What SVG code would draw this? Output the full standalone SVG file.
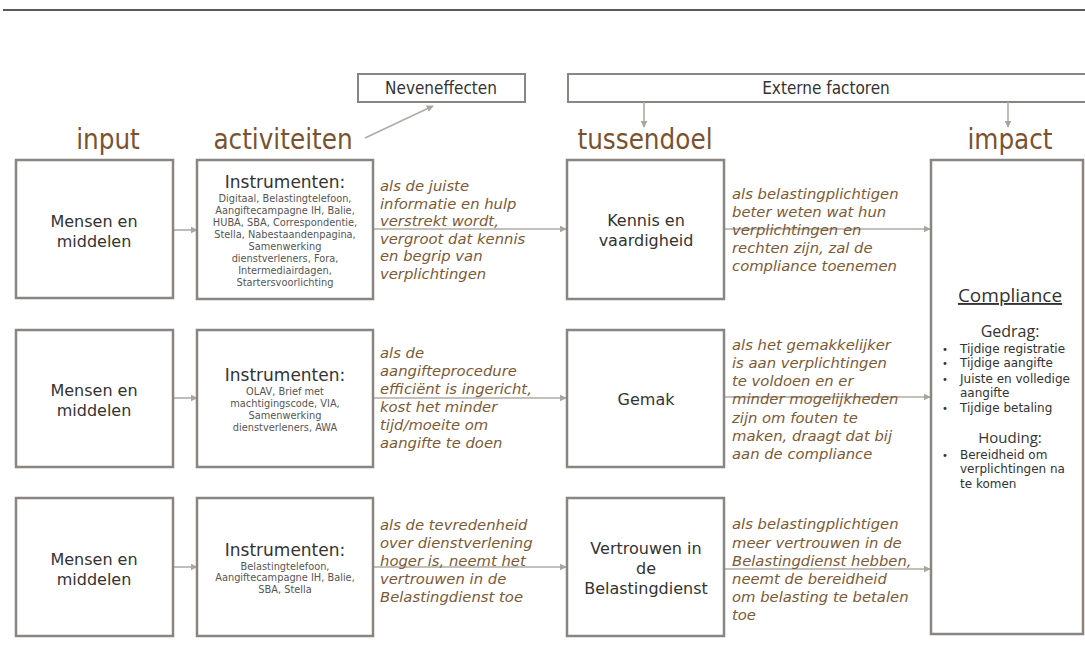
<svg xmlns="http://www.w3.org/2000/svg" width="1085" height="664" viewBox="0 0 1085 664">
<defs>
<marker id="ah" viewBox="0 0 10 10" refX="9" refY="5" markerWidth="7" markerHeight="7" orient="auto" markerUnits="userSpaceOnUse">
<path d="M0,0 L10,5 L0,10 z" fill="#aaa59f"/>
</marker>
<style>
.box{fill:#fff;stroke:#8a8580;stroke-width:2.5}
.tbox{fill:#fff;stroke:#8a8580;stroke-width:2}
.con{stroke:#b0aba5;stroke-width:1.6;fill:none;marker-end:url(#ah)}
.hdr{font-family:"DejaVu Sans Condensed","DejaVu Sans",sans-serif;font-stretch:condensed;font-size:27.5px;fill:#7a5230;text-anchor:middle}
.top{font-family:"DejaVu Sans Condensed","DejaVu Sans",sans-serif;font-stretch:condensed;font-size:17px;fill:#333;text-anchor:middle}
.nt{font-family:"DejaVu Sans",Verdana,sans-serif;font-size:16px;fill:#333;text-anchor:middle}
.ins{font-family:"DejaVu Sans",Verdana,sans-serif;font-size:17px;fill:#333;text-anchor:middle}
.sm{font-family:"DejaVu Sans",Verdana,sans-serif;font-size:9.8px;fill:#555;text-anchor:middle}
.it{font-family:"DejaVu Sans",Verdana,sans-serif;font-style:italic;font-size:14.8px;fill:#7b5a36}
.imp{font-family:"DejaVu Sans",sans-serif;font-size:12px;fill:#333}
.bul{font-family:"DejaVu Sans",sans-serif;font-size:10px;fill:#333}
.impc{font-family:"Open Sans","DejaVu Sans",sans-serif;font-size:15px;fill:#333;text-anchor:middle}
.comp{font-family:"Open Sans","DejaVu Sans",sans-serif;font-size:19px;fill:#333;text-anchor:middle;text-decoration:underline}
.ged{font-family:"Open Sans","DejaVu Sans",sans-serif;font-size:16px;fill:#333;text-anchor:middle}
</style>
</defs>
<line x1="3" y1="10" x2="1085" y2="10" stroke="#222" stroke-width="1.3"/>

<g id="neveneffecten"><rect class="tbox" x="358" y="74" width="167" height="28"/><text class="top" x="441" y="94">Neveneffecten</text></g>
<g id="externe"><rect class="tbox" x="568" y="74" width="530" height="28"/><text class="top" x="826" y="94">Externe factoren</text></g>

<g id="headers">
<text class="hdr" x="108" y="149">input</text>
<text class="hdr" x="283" y="149">activiteiten</text>
<text class="hdr" x="645" y="149">tussendoel</text>
<text class="hdr" x="1010" y="149">impact</text>
</g>

<g id="connectors">
<line class="con" x1="365" y1="138" x2="433" y2="106"/>
<line class="con" x1="644" y1="102" x2="644" y2="127"/>
<line class="con" x1="1008" y1="102" x2="1008" y2="127"/>
<line class="con" x1="173" y1="230" x2="197" y2="230"/>
<line class="con" x1="173" y1="398" x2="197" y2="398"/>
<line class="con" x1="173" y1="567" x2="197" y2="567"/>
<line class="con" x1="373" y1="229" x2="566" y2="229"/>
<line class="con" x1="373" y1="398" x2="566" y2="398"/>
<line class="con" x1="373" y1="567" x2="566" y2="567"/>
<line class="con" x1="724" y1="229" x2="930" y2="229"/>
<line class="con" x1="724" y1="397" x2="930" y2="397"/>
<line class="con" x1="724" y1="569" x2="930" y2="569"/>
</g>

<g id="input1"><rect class="box" x="16" y="160" width="157" height="138"/><text class="nt" x="94" y="227">Mensen en</text><text class="nt" x="94" y="247">middelen</text></g>
<g id="input2"><rect class="box" x="16" y="330" width="157" height="137"/><text class="nt" x="94" y="396">Mensen en</text><text class="nt" x="94" y="416">middelen</text></g>
<g id="input3"><rect class="box" x="16" y="498" width="157" height="138"/><text class="nt" x="94" y="565">Mensen en</text><text class="nt" x="94" y="585">middelen</text></g>

<g id="act1"><rect class="box" x="197" y="160" width="176" height="139"/>
<text class="ins" x="285" y="188">Instrumenten:</text>
<text class="sm" x="285" y="201.5">Digitaal, Belastingtelefoon,</text>
<text class="sm" x="285" y="213.5">Aangiftecampagne IH, Balie,</text>
<text class="sm" x="285" y="225.5">HUBA, SBA, Correspondentie,</text>
<text class="sm" x="285" y="237.5">Stella, Nabestaandenpagina,</text>
<text class="sm" x="285" y="249.5">Samenwerking</text>
<text class="sm" x="285" y="261.5">dienstverleners, Fora,</text>
<text class="sm" x="285" y="273.5">Intermediairdagen,</text>
<text class="sm" x="285" y="285.5">Startersvoorlichting</text>
</g>
<g id="act2"><rect class="box" x="197" y="330" width="176" height="137"/>
<text class="ins" x="285" y="381">Instrumenten:</text>
<text class="sm" x="285" y="394.5">OLAV, Brief met</text>
<text class="sm" x="285" y="406.5">machtigingscode, VIA,</text>
<text class="sm" x="285" y="418.5">Samenwerking</text>
<text class="sm" x="285" y="430.5">dienstverleners, AWA</text>
</g>
<g id="act3"><rect class="box" x="197" y="498" width="176" height="138"/>
<text class="ins" x="285" y="556">Instrumenten:</text>
<text class="sm" x="285" y="569.5">Belastingtelefoon,</text>
<text class="sm" x="285" y="581">Aangiftecampagne IH, Balie,</text>
<text class="sm" x="285" y="592.5">SBA, Stella</text>
</g>

<g id="lab1"><text class="it" x="380">
<tspan x="380" y="191">als de juiste</tspan><tspan x="380" y="208.5">informatie en hulp</tspan><tspan x="380" y="226">verstrekt wordt,</tspan><tspan x="380" y="243.5">vergroot dat kennis</tspan><tspan x="380" y="261">en begrip van</tspan><tspan x="380" y="278.5">verplichtingen</tspan></text></g>
<g id="lab2"><text class="it" x="380">
<tspan x="380" y="358">als de</tspan><tspan x="380" y="376">aangifteprocedure</tspan><tspan x="380" y="394">efficiënt is ingericht,</tspan><tspan x="380" y="412">kost het minder</tspan><tspan x="380" y="430">tijd/moeite om</tspan><tspan x="380" y="448">aangifte te doen</tspan></text></g>
<g id="lab3"><text class="it" x="380">
<tspan x="380" y="530">als de tevredenheid</tspan><tspan x="380" y="548">over dienstverlening</tspan><tspan x="380" y="566">hoger is, neemt het</tspan><tspan x="380" y="584">vertrouwen in de</tspan><tspan x="380" y="602">Belastingdienst toe</tspan></text></g>

<g id="tus1"><rect class="box" x="567" y="160" width="157" height="139"/><text class="nt" x="646" y="226">Kennis en</text><text class="nt" x="646" y="246">vaardigheid</text></g>
<g id="tus2"><rect class="box" x="567" y="330" width="157" height="137"/><text class="nt" x="646" y="405">Gemak</text></g>
<g id="tus3"><rect class="box" x="567" y="498" width="157" height="138"/><text class="nt" x="646" y="554">Vertrouwen in</text><text class="nt" x="646" y="574">de</text><text class="nt" x="646" y="594">Belastingdienst</text></g>

<g id="lab4"><text class="it" x="732">
<tspan x="732" y="199">als belastingplichtigen</tspan><tspan x="732" y="217">beter weten wat hun</tspan><tspan x="732" y="235">verplichtingen en</tspan><tspan x="732" y="253">rechten zijn, zal de</tspan><tspan x="732" y="271">compliance toenemen</tspan></text></g>
<g id="lab5"><text class="it" x="732">
<tspan x="732" y="350">als het gemakkelijker</tspan><tspan x="732" y="368">is aan verplichtingen</tspan><tspan x="732" y="386">te voldoen en er</tspan><tspan x="732" y="404">minder mogelijkheden</tspan><tspan x="732" y="422.5">zijn om fouten te</tspan><tspan x="732" y="440.5">maken, draagt dat bij</tspan><tspan x="732" y="458.5">aan de compliance</tspan></text></g>
<g id="lab6"><text class="it" x="732">
<tspan x="732" y="529">als belastingplichtigen</tspan><tspan x="732" y="547.5">meer vertrouwen in  de</tspan><tspan x="732" y="566">Belastingdienst hebben,</tspan><tspan x="732" y="584">neemt de bereidheid</tspan><tspan x="732" y="602">om belasting te betalen</tspan><tspan x="732" y="620">toe</tspan></text></g>

<g id="impact"><rect class="box" x="931" y="160" width="152" height="474"/>
<text class="comp" x="1010" y="302">Compliance</text>
<text class="ged" x="1010" y="337">Gedrag:</text>
<text class="bul" x="942" y="353">•</text><text class="imp" x="960" y="353">Tijdige registratie</text>
<text class="bul" x="942" y="367">•</text><text class="imp" x="960" y="367">Tijdige aangifte</text>
<text class="bul" x="942" y="383">•</text><text class="imp" x="960" y="383">Juiste en volledige</text>
<text class="imp" x="960" y="397">aangifte</text>
<text class="bul" x="942" y="412">•</text><text class="imp" x="960" y="412">Tijdige betaling</text>
<text class="impc" x="1010" y="443">Houding:</text>
<text class="bul" x="942" y="459">•</text><text class="imp" x="960" y="459">Bereidheid om</text>
<text class="imp" x="960" y="473">verplichtingen na</text>
<text class="imp" x="960" y="488">te komen</text>
</g>
</svg>
